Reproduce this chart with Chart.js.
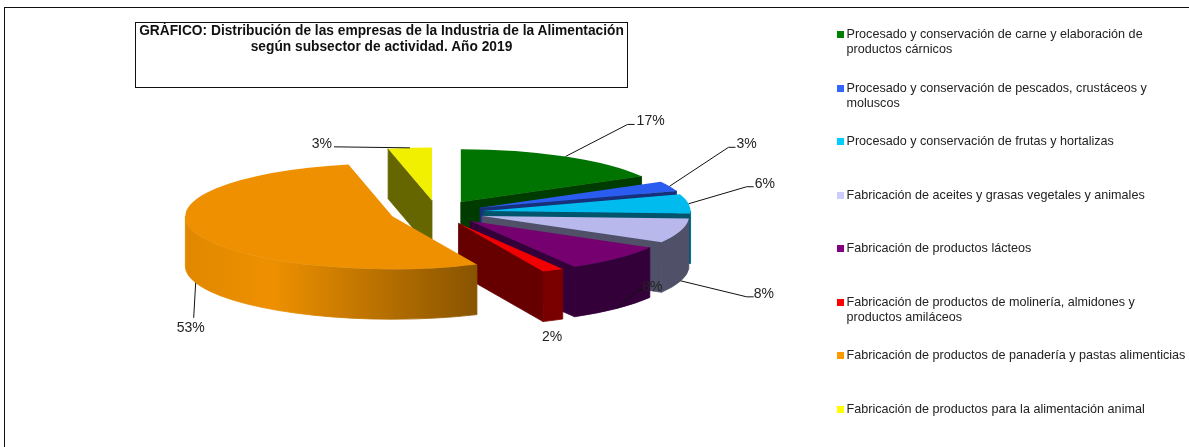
<!DOCTYPE html>
<html lang="es">
<head>
<meta charset="utf-8">
<style>
    body { margin: 0; background: #fff; font-family: "Liberation Sans", Arial, sans-serif; }
    #wrap { position: relative; width: 1189px; height: 447px; overflow: hidden; }
    #myChart { position: absolute; left: 0; top: 0; }
    #frame { position: absolute; left: 4px; top: 7px; width: 1300px; height: 600px; border: 1.5px solid #111; }
    #title { position: absolute; left: 135px; top: 22px; width: 491px; height: 64px; border: 1.5px solid #111;
        font-weight: bold; font-size: 13.75px; line-height: 15.5px; text-align: center; color: #111; }
    .legendItem { position: absolute; left: 846.5px; font-size: 12.6px; line-height: 14.5px; color: #222; white-space: pre; }
    .legendBox { position: absolute; left: 837px; width: 7px; height: 7px; }
</style>
</head>
<body>
<div id="wrap">
    <div id="frame"></div>
    <canvas id="myChart" width="1189" height="447"></canvas>
    <div id="title">GRÁFICO: Distribución de las empresas de la Industria de la Alimentación<br>según subsector de actividad. Año 2019</div>
</div>
<script src="https://cdn.jsdelivr.net/npm/chart.js@4/dist/chart.umd.js"></script>
<script>
"use strict";

const categories = [
    'Procesado y conservación de carne y elaboración de\nproductos cárnicos',
    'Procesado y conservación de pescados, crustáceos y\nmoluscos',
    'Procesado y conservación de frutas y hortalizas',
    'Fabricación de aceites y grasas vegetales y animales',
    'Fabricación de productos lácteos',
    'Fabricación de productos de molinería, almidones y\nproductos amiláceos',
    'Fabricación de productos de panadería y pastas alimenticias',
    'Fabricación de productos para la alimentación animal'
];
// the labels round them
const values = [16.9, 3.0, 5.9, 7.5, 8.3, 1.7, 53.3, 3.4];

const legendColors = ['#008000', '#3366ff', '#00ccff', '#ccccff', '#800080', '#ff0000', '#ff9900', '#ffff00'];
const topColors = ['#007400', '#2a5cf0', '#00bcee', '#b8b8ec', '#760070', '#f00000', '#ee9000', '#f0f000'];
const sideColors = ['#003c00', '#16307a', '#00546b', '#505068', '#33003a', '#660000', '#885400', '#666600'];
const rimColors = [
    ['#003c00'], ['#16307a'], ['#00708f'], ['#505068'], ['#33003a'], ['#7a0000'],
    ['#e08800', '#ee9000', '#885400'], ['#666600']
];

// legend rows, y of first line
const legendTops = [27, 81, 134, 188, 241, 295, 348, 402];

// elbow of each leader line from the slice edge, then the label offset from the elbow
const leaders = [
    { dx: 62, dy: -32, run: 7, lx: 2, ly: -3 },
    { dx: 59, dy: -39, run: 7, lx: 1, ly: -3 },
    { dx: 58, dy: -17, run: 7, lx: 1, ly: -3 },
    { dx: 66, dy: 16, run: 7, lx: 0, ly: -3 },
    { dx: 20, dy: -18, run: 6, lx: -1, ly: -3 },
    { dx: 1, dy: 17, run: 0, lx: -2, ly: 0, noLine: true },
    { dx: -2, dy: 35, run: 0, lx: -3, ly: 10 },
    { dx: -74, dy: -1, run: -2, lx: -2, ly: -3 }
];

const flatten = 0.256;
const depth = 50;
const explode = 47;
const drawOrder = [7, 0, 1, 2, 3, 4, 5, 6];

function sliceGeometry(arc) {
    const mid = (arc.startAngle + arc.endAngle) / 2;
    return {
        x: arc.x + Math.cos(mid) * explode,
        y: arc.y + Math.sin(mid) * explode * flatten,
        dx: Math.cos(mid) * explode,
        dy: Math.sin(mid) * explode,
        r: arc.outerRadius,
        ry: arc.outerRadius * flatten,
        mid: mid
    };
}

function drawRadialWall(ctx, g, angle, color) {
    const rimX = g.x + Math.cos(angle) * g.r;
    const rimY = g.y + Math.sin(angle) * g.ry;
    ctx.fillStyle = color;
    ctx.strokeStyle = color;
    ctx.lineWidth = 0.8;
    ctx.beginPath();
    ctx.moveTo(g.x, g.y);
    ctx.lineTo(rimX, rimY);
    ctx.lineTo(rimX, rimY + depth);
    ctx.lineTo(g.x, g.y + depth);
    ctx.closePath();
    ctx.fill();
    ctx.stroke();
}

function drawRimWall(ctx, g, start, end, stops) {
    const lo = Math.max(start, 0);
    const hi = Math.min(end, Math.PI);
    if (lo >= hi) return;
    const x0 = g.x + Math.cos(hi) * g.r;
    const x1 = g.x + Math.cos(lo) * g.r;
    const grad = ctx.createLinearGradient(x0, 0, x1, 0);
    if (stops.length === 1) {
        grad.addColorStop(0, stops[0]);
        grad.addColorStop(1, stops[0]);
    } else {
        grad.addColorStop(0, stops[0]);
        grad.addColorStop(0.3, stops[1]);
        grad.addColorStop(1, stops[2]);
    }
    ctx.fillStyle = grad;
    ctx.strokeStyle = grad;
    ctx.lineWidth = 0.8;
    ctx.beginPath();
    ctx.ellipse(g.x, g.y, g.r, g.ry, 0, lo, hi);
    ctx.ellipse(g.x, g.y + depth, g.r, g.ry, 0, hi, lo, true);
    ctx.closePath();
    ctx.fill();
    ctx.stroke();
}

const pie3d = {
    id: 'pie3d',
    beforeDatasetsDraw(chart) {
        const ctx = chart.ctx;
        const arcs = chart.getDatasetMeta(0).data;
        drawOrder.forEach(function (i) {
            const arc = arcs[i];
            const g = sliceGeometry(arc);
            // only the walls turned to the viewer
            if (Math.cos(arc.startAngle) < 0) drawRadialWall(ctx, g, arc.startAngle, sideColors[i]);
            if (Math.cos(arc.endAngle) > 0) drawRadialWall(ctx, g, arc.endAngle, sideColors[i]);
            drawRimWall(ctx, g, arc.startAngle, arc.endAngle, rimColors[i]);

            ctx.save();
            ctx.translate(0, arc.y);
            ctx.scale(1, flatten);
            ctx.translate(0, -arc.y);
            ctx.translate(g.dx, g.dy);
            arc.draw(ctx);
            ctx.restore();
        });
        return false;
    },
    afterDraw(chart) {
        const ctx = chart.ctx;
        const arcs = chart.getDatasetMeta(0).data;
        ctx.save();
        ctx.font = '14px "Liberation Sans", Arial, sans-serif';
        ctx.textBaseline = 'middle';
        ctx.strokeStyle = '#111';
        ctx.fillStyle = '#222';
        ctx.lineWidth = 1;
        arcs.forEach(function (arc, i) {
            const g = sliceGeometry(arc);
            const l = leaders[i];
            const ax = g.x + Math.cos(g.mid) * g.r;
            let ay = g.y + Math.sin(g.mid) * g.ry;
            if (Math.sin(g.mid) > 0) ay += depth;
            const ex = ax + l.dx;
            const ey = ay + l.dy;
            if (!l.noLine) {
                ctx.beginPath();
                ctx.moveTo(ax, ay);
                ctx.lineTo(ex, ey);
                ctx.lineTo(ex + l.run, ey);
                ctx.stroke();
            }
            const text = Math.round(values[i]) + '%';
            const w = ctx.measureText(text).width;
            const tx = l.run < 0 ? ex + l.run + l.lx - w : (l.run === 0 ? ex + l.lx - w / 2 : ex + l.run + l.lx);
            ctx.fillText(text, tx, ey + l.ly);
        });
        ctx.restore();
    }
};

new Chart(document.getElementById('myChart'), {
    type: 'pie',
    data: {
        labels: categories,
        datasets: [{
            data: values,
            backgroundColor: topColors,
            borderWidth: 0
        }]
    },
    options: {
        responsive: false,
        animation: false,
        radius: 207,
        layout: { padding: { right: 315, bottom: 22 } },
        plugins: { legend: { display: false }, tooltip: { enabled: false } }
    },
    plugins: [pie3d]
});

var wrap = document.getElementById('wrap');
categories.forEach(function (text, i) {
    var box = document.createElement('div');
    box.className = 'legendBox';
    box.style.top = (legendTops[i] + 3.5) + 'px';
    box.style.background = legendColors[i];
    wrap.appendChild(box);
    var item = document.createElement('div');
    item.className = 'legendItem';
    item.style.top = legendTops[i] + 'px';
    item.textContent = text;
    wrap.appendChild(item);
});
</script>
</body>
</html>
